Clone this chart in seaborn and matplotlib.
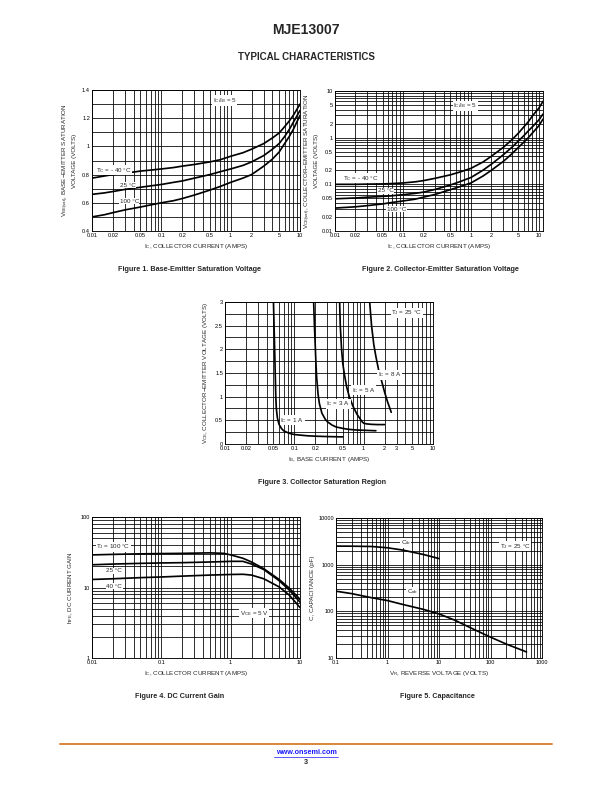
import numpy as np
import pandas as pd
import seaborn as sns
import matplotlib.pyplot as plt
from matplotlib.ticker import LogLocator, MultipleLocator, FixedLocator, FixedFormatter, NullFormatter

# Figure 1 - base-emitter saturation voltage
fig1_ic = [0.01, 0.015, 0.02, 0.03, 0.05, 0.07, 0.1, 0.15, 0.2, 0.3, 0.5, 0.7,
           1, 1.5, 2, 3, 4, 5, 6, 7, 8, 10]
fig1_vbe_m40 = [0.775, 0.79, 0.80, 0.81, 0.825, 0.832, 0.84, 0.85, 0.86, 0.872, 0.89, 0.905,
                0.93, 0.955, 0.98, 1.02, 1.06, 1.095, 1.14, 1.18, 1.22, 1.30]
fig1_vbe_25 = [0.66, 0.67, 0.68, 0.695, 0.71, 0.72, 0.73, 0.745, 0.755, 0.775, 0.80, 0.82,
               0.84, 0.865, 0.89, 0.935, 0.98, 1.02, 1.07, 1.12, 1.17, 1.255]
fig1_vbe_100 = [0.50, 0.515, 0.53, 0.55, 0.57, 0.585, 0.60, 0.615, 0.63, 0.655, 0.69, 0.715,
                0.745, 0.775, 0.80, 0.86, 0.91, 0.96, 1.02, 1.07, 1.12, 1.22]

# Figure 2 - collector-emitter saturation voltage
fig2_ic = [0.01, 0.02, 0.03, 0.05, 0.07, 0.1, 0.15, 0.2, 0.3, 0.5, 0.7,
           1, 1.5, 2, 3, 4, 5, 6, 7, 8, 10, 11.5]
fig2_vce_m40 = [0.100, 0.100, 0.101, 0.102, 0.104, 0.107, 0.113, 0.12, 0.135, 0.16, 0.185,
                0.22, 0.30, 0.40, 0.62, 0.90, 1.25, 1.7, 2.2, 2.9, 4.3, 6.0]
fig2_vce_25 = [0.049, 0.051, 0.053, 0.055, 0.057, 0.060, 0.064, 0.068, 0.078, 0.097, 0.115,
               0.14, 0.20, 0.27, 0.43, 0.62, 0.85, 1.1, 1.4, 1.7, 2.4, 3.2]
fig2_vce_100 = [0.031, 0.033, 0.035, 0.038, 0.041, 0.044, 0.048, 0.053, 0.061, 0.077, 0.090,
                0.107, 0.15, 0.20, 0.31, 0.45, 0.62, 0.80, 1.0, 1.25, 1.8, 2.5]

# Figure 3 - collector saturation region (IB, VCE) per IC
fig3_ib_1a = [0.05, 0.051, 0.052, 0.053, 0.054, 0.055, 0.057, 0.06, 0.065, 0.07, 0.08, 0.09,
              0.1, 0.15, 0.2, 0.3, 0.5]
fig3_vce_1a = [3.0, 2.5, 2.0, 1.5, 1.0, 0.75, 0.55, 0.42, 0.33, 0.28, 0.24, 0.215,
               0.20, 0.175, 0.165, 0.157, 0.15]
fig3_ib_3a = [0.19, 0.195, 0.2, 0.205, 0.21, 0.22, 0.23, 0.25, 0.28, 0.3, 0.35, 0.4, 0.5,
              0.6, 0.8, 1.0, 1.5]
fig3_vce_3a = [3.0, 2.5, 2.1, 1.7, 1.4, 1.05, 0.85, 0.65, 0.52, 0.47, 0.40, 0.36, 0.33,
               0.31, 0.295, 0.29, 0.28]
fig3_ib_5a = [0.45, 0.46, 0.48, 0.5, 0.53, 0.57, 0.62, 0.7, 0.8, 0.9, 0.95, 1.0, 1.1, 1.3,
              1.6, 2.0]
fig3_vce_5a = [3.0, 2.5, 2.0, 1.7, 1.45, 1.2, 1.0, 0.8, 0.63, 0.52, 0.47, 0.44, 0.425, 0.415,
               0.41, 0.41]
fig3_ib_8a = [1.22, 1.3, 1.4, 1.5, 1.65, 1.8, 2.0, 2.2, 2.5]
fig3_vce_8a = [3.0, 2.5, 2.1, 1.85, 1.55, 1.35, 1.1, 0.9, 0.67]

# Figure 4 - DC current gain
fig4_ic = [0.01, 0.02, 0.05, 0.1, 0.2, 0.5, 0.8, 1, 1.5, 2, 3, 5, 7, 10]
fig4_hfe_100 = [29, 29.5, 30, 30.3, 30.5, 31, 30.5, 29, 26, 23, 18.5, 13, 9.8, 6.8]
fig4_hfe_25 = [21, 21.5, 22, 22.3, 22.5, 23, 23.3, 23.5, 23.5, 21.5, 18, 12.5, 9.2, 6.2]
fig4_hfe_m40 = [13, 13.3, 13.8, 14.1, 14.5, 15, 15.2, 15.3, 15.4, 15, 13.3, 10.2, 7.8, 5.2]

# Figure 5 - capacitance
fig5_v_cib = [0.1, 0.2, 0.5, 1, 2, 5, 10]
fig5_cib = [2500, 2490, 2450, 2300, 2050, 1650, 1350]
fig5_v_cob = [0.1, 0.2, 0.5, 1, 2, 5, 10, 20, 50, 100, 200, 500]
fig5_cob = [270, 240, 195, 170, 140, 110, 88, 65, 40, 28, 20, 13.5]

log_ticks_3dec = [0.01, 0.02, 0.05, 0.1, 0.2, 0.5, 1, 2, 5, 10]

sns.set_theme(style="white")
plt.rcParams['font.family'] = ['Liberation Sans', 'DejaVu Sans']
plt.rcParams['mathtext.default'] = 'regular'

W, H = 612, 792
fig = plt.figure(figsize=(W / 72, H / 72), dpi=72)
fig.patch.set_facecolor('white')


def box(l, t, r, b):
    return [l / W, 1 - b / H, (r - l) / W, (b - t) / H]


GRID = dict(color='black', lw=0.8)
LINE = dict(color='black', lw=1.7)
LBL = dict(fontsize=6.2, bbox=dict(facecolor='white', edgecolor='none', pad=0.6))
AXF = 6.3


def style(ax, xticks, yticks):
    for s in ax.spines.values():
        s.set_visible(True)
        s.set_color('black')
        s.set_linewidth(0.9)
    ax.set_facecolor('white')
    ax.xaxis.set_major_locator(FixedLocator(xticks))
    ax.xaxis.set_major_formatter(FixedFormatter([f"{t:g}" for t in xticks]))
    ax.yaxis.set_major_locator(FixedLocator(yticks))
    ax.yaxis.set_major_formatter(FixedFormatter([f"{t:g}" for t in yticks]))
    ax.xaxis.set_minor_formatter(NullFormatter())
    ax.yaxis.set_minor_formatter(NullFormatter())
    ax.tick_params(which='both', length=0, labelsize=5.6, pad=2, colors='black')
    ax.grid(True, which='both', **GRID)
    ax.set_axisbelow(True)


def curve(ax, x, y):
    sns.lineplot(x=x, y=y, ax=ax, estimator=None, sort=False, **LINE)


logsubs = LogLocator(base=10, subs=np.arange(1, 10))

# ---------------- Figure 1 ----------------
ax1 = fig.add_axes(box(92, 90, 300, 231))
ax1.set_xscale('log')
for y in (fig1_vbe_m40, fig1_vbe_25, fig1_vbe_100):
    curve(ax1, fig1_ic, y)
ax1.set_xlim(0.01, 10)
ax1.set_ylim(0.4, 1.4)
ax1.xaxis.set_minor_locator(LogLocator(base=10, subs=np.arange(1, 10)))
ax1.yaxis.set_minor_locator(MultipleLocator(0.1))
style(ax1, log_ticks_3dec, [0.4, 0.6, 0.8, 1, 1.2, 1.4])
ax1.text(0.0115, 0.82, 'T$_C$ = - 40 °C', **LBL)
ax1.text(0.025, 0.715, '25 °C', **LBL)
ax1.text(0.025, 0.60, '100 °C', **LBL)
ax1.text(0.55, 1.315, 'I$_C$/I$_B$ = 5', **LBL)
ax1.set_xlabel('I$_C$, COLLECTOR CURRENT (AMPS)', fontsize=AXF, labelpad=4)
ax1.set_ylabel('V$_{BE(sat)}$, BASE−EMITTER SATURATION\nVOLTAGE (VOLTS)', fontsize=AXF, labelpad=5)

# ---------------- Figure 2 ----------------
ax2 = fig.add_axes(box(335, 91, 543, 231))
ax2.set_xscale('log')
ax2.set_yscale('log')
for y in (fig2_vce_m40, fig2_vce_25, fig2_vce_100):
    curve(ax2, fig2_ic, y)
ax2.set_xlim(0.01, 11.5)
ax2.set_ylim(0.01, 10)
ax2.xaxis.set_minor_locator(LogLocator(base=10, subs=np.arange(1, 10)))
ax2.yaxis.set_minor_locator(LogLocator(base=10, subs=np.arange(1, 10)))
style(ax2, log_ticks_3dec, log_ticks_3dec)
ax2.text(0.013, 0.125, 'T$_C$ = - 40 °C', **LBL)
ax2.text(0.043, 0.068, '25 °C', **LBL)
ax2.text(0.058, 0.027, '100 °C', **LBL)
ax2.text(0.55, 4.5, 'I$_C$/I$_B$ = 5', **LBL)
ax2.set_xlabel('I$_C$, COLLECTOR CURRENT (AMPS)', fontsize=AXF, labelpad=4)
ax2.set_ylabel('V$_{CE(sat)}$, COLLECTOR−EMITTER SATURATION\nVOLTAGE (VOLTS)', fontsize=AXF, labelpad=3)

# ---------------- Figure 3 ----------------
ax3 = fig.add_axes(box(225, 302, 433, 444))
ax3.set_xscale('log')
for x, y in ((fig3_ib_1a, fig3_vce_1a), (fig3_ib_3a, fig3_vce_3a),
             (fig3_ib_5a, fig3_vce_5a), (fig3_ib_8a, fig3_vce_8a)):
    curve(ax3, x, y)
ax3.set_xlim(0.01, 10)
ax3.set_ylim(0, 3)
ax3.xaxis.set_minor_locator(LogLocator(base=10, subs=np.arange(1, 10)))
ax3.yaxis.set_minor_locator(MultipleLocator(0.25))
style(ax3, [0.01, 0.02, 0.05, 0.1, 0.2, 0.5, 1, 2, 3, 5, 10], [0, 0.5, 1, 1.5, 2, 2.5, 3])
ax3.text(0.063, 0.47, 'I$_C$ = 1 A', **LBL)
ax3.text(0.29, 0.82, 'I$_C$ = 3 A', **LBL)
ax3.text(0.68, 1.1, 'I$_C$ = 5 A', **LBL)
ax3.text(1.6, 1.43, 'I$_C$ = 8 A', **LBL)
ax3.text(2.5, 2.74, 'T$_J$ = 25 °C', **LBL)
ax3.set_xlabel('I$_B$, BASE CURRENT (AMPS)', fontsize=AXF, labelpad=4)
ax3.set_ylabel('V$_{CE}$, COLLECTOR−EMITTER VOLTAGE (VOLTS)', fontsize=AXF, labelpad=5)

# ---------------- Figure 4 ----------------
ax4 = fig.add_axes(box(92, 517, 300, 658))
ax4.set_xscale('log')
ax4.set_yscale('log')
for y in (fig4_hfe_100, fig4_hfe_25, fig4_hfe_m40):
    curve(ax4, fig4_ic, y)
ax4.set_xlim(0.01, 10)
ax4.set_ylim(1, 100)
ax4.xaxis.set_minor_locator(LogLocator(base=10, subs=np.arange(1, 10)))
ax4.yaxis.set_minor_locator(LogLocator(base=10, subs=np.arange(1, 10)))
style(ax4, [0.01, 0.1, 1, 10], [1, 10, 100])
ax4.text(0.0115, 36, 'T$_J$ = 100 °C', **LBL)
ax4.text(0.016, 16.5, '25 °C', **LBL)
ax4.text(0.016, 10.0, '40 °C', **LBL)
ax4.text(1.35, 4.1, 'V$_{CE}$ = 5 V', **LBL)
ax4.set_xlabel('I$_C$, COLLECTOR CURRENT (AMPS)', fontsize=AXF, labelpad=4)
ax4.set_ylabel('h$_{FE}$, DC CURRENT GAIN', fontsize=AXF, labelpad=6)

# ---------------- Figure 5 ----------------
ax5 = fig.add_axes(box(336, 518, 542, 658))
ax5.set_xscale('log')
ax5.set_yscale('log')
curve(ax5, fig5_v_cib, fig5_cib)
curve(ax5, fig5_v_cob, fig5_cob)
ax5.set_xlim(0.1, 1000)
ax5.set_ylim(10, 10000)
ax5.xaxis.set_minor_locator(LogLocator(base=10, subs=np.arange(1, 10)))
ax5.yaxis.set_minor_locator(LogLocator(base=10, subs=np.arange(1, 10)))
style(ax5, [0.1, 1, 10, 100, 1000], [10, 100, 1000, 10000])
ax5.text(1.8, 2700, 'C$_{ib}$', **LBL)
ax5.text(2.4, 240, 'C$_{ob}$', **LBL)
ax5.text(150, 2300, 'T$_J$ = 25 °C', **LBL)
ax5.set_xlabel('V$_R$, REVERSE VOLTAGE (VOLTS)', fontsize=AXF, labelpad=4)
ax5.set_ylabel('C, CAPACITANCE (pF)', fontsize=AXF, labelpad=3)

# ---------------- page text ----------------
fig.text(306 / W, 1 - 30 / H, 'MJE13007', ha='center', va='center', fontsize=14, fontweight='bold')
fig.text(306 / W, 1 - 57 / H, 'TYPICAL CHARACTERISTICS', ha='center', va='center', fontsize=9.8, fontweight='bold')
caps = [(190, 270, 'Figure 1. Base-Emitter Saturation Voltage'),
        (440, 270, 'Figure 2. Collector-Emitter Saturation Voltage'),
        (322, 483, 'Figure 3. Collector Saturation Region'),
        (180, 697, 'Figure 4. DC Current Gain'),
        (437, 697, 'Figure 5. Capacitance')]
for cx, cy, t in caps:
    fig.text(cx / W, 1 - cy / H, t, ha='center', va='center', fontsize=7.2, fontweight='bold')

fig.add_artist(plt.Line2D([60 / W, 552 / W], [1 - 744 / H] * 2, color='#D98A3E', lw=2))
fig.text(306 / W, 1 - 752 / H, 'www.onsemi.com', ha='center', va='center', fontsize=7.2, fontweight='bold', color='#1a1aff')
fig.add_artist(plt.Line2D([274 / W, 338 / W], [1 - 756.5 / H] * 2, color='#1a1aff', lw=0.7))
fig.text(306 / W, 1 - 762 / H, '3', ha='center', va='center', fontsize=7.2, fontweight='bold')

fig.savefig('out.png', dpi=72, facecolor='white')
